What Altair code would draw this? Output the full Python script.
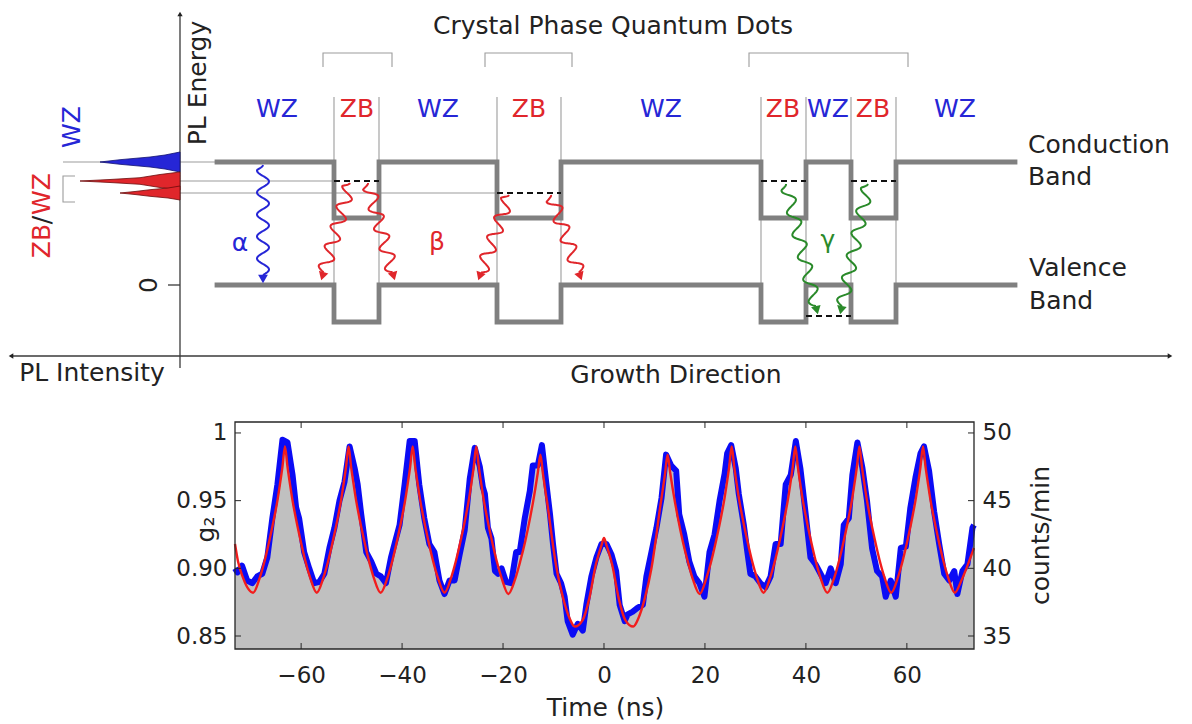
import math
import altair as alt
import pandas as pd

W, H = 1192, 724
FONT = "DejaVu Sans"
INK = "#222222"
BLUE = "#2626d6"
RED = "#e0262b"
GREEN = "#2a8a2a"
BAND = "#808080"
THIN = "#9c9c9c"

# ------------------------------------------------------------------
# Bottom panel: measured g2 (blue, with grey fill) and fit (red)
# ------------------------------------------------------------------
t_data = [-73.1, -72.6, -71.7, -70.7, -69.7, -68.7, -67.7, -66.7, -65.7, -64.7,
          -63.7, -62.7, -61.7, -61.0, -60.4, -59.4, -58.4, -57.4, -56.4, -55.4,
          -54.4, -53.4, -52.4, -51.4, -50.4, -49.4, -48.8, -48.1, -47.1, -46.1,
          -45.1, -44.2, -43.2, -42.2, -41.5, -40.5, -39.5, -38.5, -37.5, -36.6,
          -35.6, -34.6, -33.6, -32.6, -31.6, -30.6, -29.6, -28.6, -27.6, -26.6,
          -25.6, -24.6, -24.0, -23.6, -23.0, -22.3, -21.6, -21.0, -20.3, -19.4,
          -18.4, -17.4, -16.7, -15.7, -14.7, -14.1, -13.1, -12.3, -11.4, -10.7,
          -10.1, -9.4, -8.5, -7.8, -7.2, -6.2, -5.2, -4.2, -3.5, -2.5,
          -1.5, -0.5, 0.5, 1.5, 2.4, 3.1, 4.1, 4.7, 5.7, 6.7,
          7.7, 8.4, 9.4, 10.4, 11.4, 12.3, 13.3, 14.3, 14.9, 15.9,
          16.9, 17.9, 18.9, 19.9, 20.9, 21.9, 22.9, 23.9, 24.4, 25.2,
          26.1, 26.7, 27.7, 28.4, 29.0, 30.0, 31.0, 32.0, 33.0, 34.0,
          35.0, 36.0, 37.0, 38.0, 38.9, 39.9, 40.9, 41.9, 42.9, 43.9,
          44.9, 45.9, 46.9, 47.5, 48.5, 49.2, 50.2, 51.2, 52.1, 53.1,
          54.1, 55.1, 55.8, 56.8, 57.8, 58.8, 59.8, 60.7, 61.7, 62.7,
          63.4, 64.4, 65.4, 66.4, 67.4, 68.4, 69.4, 70.0, 71.0, 72.0,
          73.0, 73.3]
g2_data = [0.900, 0.897, 0.902, 0.891, 0.889, 0.894, 0.896, 0.908, 0.937, 0.962,
           0.995, 0.993, 0.969, 0.945, 0.937, 0.912, 0.900, 0.889, 0.890, 0.896,
           0.915, 0.930, 0.950, 0.964, 0.990, 0.974, 0.962, 0.940, 0.912, 0.905,
           0.896, 0.894, 0.889, 0.908, 0.918, 0.932, 0.962, 0.994, 0.994, 0.962,
           0.937, 0.918, 0.912, 0.891, 0.881, 0.891, 0.891, 0.910, 0.928, 0.966,
           0.989, 0.975, 0.960, 0.955, 0.930, 0.922, 0.898, 0.896, 0.900, 0.890,
           0.889, 0.912, 0.912, 0.937, 0.957, 0.976, 0.976, 0.991, 0.962, 0.940,
           0.918, 0.896, 0.889, 0.879, 0.861, 0.851, 0.859, 0.854, 0.873, 0.894,
           0.908, 0.918, 0.918, 0.910, 0.898, 0.873, 0.861, 0.866, 0.868, 0.871,
           0.873, 0.894, 0.912, 0.930, 0.952, 0.984, 0.976, 0.972, 0.940, 0.925,
           0.905, 0.894, 0.889, 0.879, 0.912, 0.925, 0.950, 0.970, 0.985, 0.991,
           0.974, 0.955, 0.932, 0.912, 0.896, 0.894, 0.889, 0.886, 0.894, 0.918,
           0.918, 0.962, 0.969, 0.994, 0.974, 0.942, 0.908, 0.903, 0.896, 0.889,
           0.900, 0.889, 0.903, 0.932, 0.937, 0.969, 0.993, 0.974, 0.950, 0.915,
           0.898, 0.894, 0.879, 0.891, 0.879, 0.915, 0.916, 0.945, 0.967, 0.985,
           0.990, 0.972, 0.942, 0.918, 0.896, 0.891, 0.898, 0.881, 0.898, 0.903,
           0.930, 0.932]

t_fit = [-73.1, -72.5, -71.5, -70.5, -69.5,
         -68.2, -67.2, -66.2, -65.2, -64.7, -64.2, -63.7, -63.2, -62.7, -62.2, -61.7, -61.2, -60.2, -59.2, -58.2, -56.9,
         -55.6, -54.6, -53.6, -52.6, -52.1, -51.6, -51.1, -50.6, -50.1, -49.6, -49.1, -48.6, -47.6, -46.6, -45.6, -44.25,
         -42.9, -41.9, -40.9, -39.9, -39.4, -38.9, -38.4, -37.9, -37.4, -36.9, -36.4, -35.9, -34.9, -33.9, -32.9, -31.6,
         -30.3, -29.3, -28.3, -27.3, -26.8, -26.3, -25.8, -25.3, -24.8, -24.3, -23.8, -23.3, -22.3, -21.3, -20.3, -18.95,
         -17.6, -16.6, -15.6, -14.6, -14.1, -13.6, -13.1, -12.6,
         -12.1, -11.6, -11.0, -10.4, -9.4, -8.1, -6.8, -5.8, -4.2, -2.9, -1.6, -1.0, -0.5, 0.0,
         0.5, 1.0, 1.6, 2.9, 4.2, 5.8, 6.8, 8.1, 9.4, 10.4, 11.0, 11.6, 12.1, 12.6,
         13.1, 13.6, 14.1, 14.6, 15.6, 16.6, 17.6, 18.95,
         20.3, 21.3, 22.3, 23.3, 23.8, 24.3, 24.8, 25.3, 25.8, 26.3, 26.8, 27.3, 28.3, 29.3, 30.3, 31.6,
         32.9, 33.9, 34.9, 35.9, 36.4, 36.9, 37.4, 37.9, 38.4, 38.9, 39.4, 39.9, 40.9, 41.9, 42.9, 44.25,
         45.6, 46.6, 47.6, 48.6, 49.1, 49.6, 50.1, 50.6, 51.1, 51.6, 52.1, 52.6, 53.6, 54.6, 55.6, 56.9,
         58.2, 59.2, 60.2, 61.2, 61.7, 62.2, 62.7, 63.2, 63.7, 64.2, 64.7, 65.2, 66.2, 67.2, 68.2, 69.5,
         70.8, 71.8, 72.8, 73.3]
g2_fit = [0.918, 0.905, 0.893, 0.885, 0.882,
          0.893, 0.906, 0.922, 0.940, 0.950, 0.962, 0.975, 0.990, 0.975, 0.962, 0.950, 0.940, 0.922, 0.906, 0.893, 0.882,
          0.893, 0.906, 0.922, 0.940, 0.950, 0.962, 0.975, 0.990, 0.975, 0.962, 0.950, 0.940, 0.922, 0.906, 0.893, 0.882,
          0.893, 0.906, 0.922, 0.940, 0.950, 0.962, 0.975, 0.990, 0.975, 0.962, 0.950, 0.940, 0.922, 0.906, 0.893, 0.882,
          0.893, 0.906, 0.922, 0.940, 0.950, 0.962, 0.975, 0.990, 0.975, 0.962, 0.950, 0.940, 0.922, 0.906, 0.893, 0.881,
          0.892, 0.905, 0.920, 0.938, 0.948, 0.959, 0.971, 0.984,
          0.970, 0.957, 0.942, 0.925, 0.900, 0.878, 0.863, 0.857, 0.862, 0.878, 0.903, 0.911, 0.917, 0.9225,
          0.917, 0.911, 0.903, 0.878, 0.862, 0.857, 0.863, 0.878, 0.900, 0.925, 0.942, 0.957, 0.970, 0.984,
          0.971, 0.959, 0.948, 0.938, 0.920, 0.905, 0.892, 0.881,
          0.893, 0.906, 0.922, 0.940, 0.950, 0.962, 0.975, 0.990, 0.975, 0.962, 0.950, 0.940, 0.922, 0.906, 0.893, 0.882,
          0.893, 0.906, 0.922, 0.940, 0.950, 0.962, 0.975, 0.990, 0.975, 0.962, 0.950, 0.940, 0.922, 0.906, 0.893, 0.882,
          0.893, 0.906, 0.922, 0.940, 0.950, 0.962, 0.975, 0.990, 0.975, 0.962, 0.950, 0.940, 0.922, 0.906, 0.893, 0.882,
          0.893, 0.906, 0.922, 0.940, 0.950, 0.962, 0.975, 0.990, 0.975, 0.962, 0.950, 0.940, 0.922, 0.906, 0.893, 0.882,
          0.891, 0.900, 0.910, 0.915]
assert len(t_data) == len(g2_data) and len(t_fit) == len(g2_fit)

x_ticks = [-60, -40, -20, 0, 20, 40, 60]
g2_ticks = [0.85, 0.90, 0.95, 1.0]
counts_ticks = [35, 40, 45, 50]
t_lim = [-73.1, 73.3]
g2_lim = [0.8404, 1.0081]
counts_lim = [34.04, 50.81]

# layout of the lower panel inside the figure (pixels)
PX_L, PX_R, PX_B, PX_T = 235, 974, 649, 422

# ------------------------------------------------------------------
# Upper panel: band-structure schematic (diagram units)
# ------------------------------------------------------------------
zb_bounds = [(334, 379), (497, 561), (761, 806), (851, 896)]
band_start, band_end = 217, 1015
cb_wz, cb_zb = 162, 218
vb_wz, vb_zb = 285, 322
qd_brackets = [(323, 392), (485, 572), (749, 908)]
bracket_top, bracket_leg = 53, 67
boundary_top, boundary_bottom = 97, 322
conf_levels = [(334, 379, 181), (497, 561, 193), (761, 806, 181), (851, 896, 181), (806, 851, 316)]
guide_lines = [(63, 217, 162), (180, 334, 181), (180, 497, 193)]
zbwz_bracket = [(75, 176), (63, 176), (63, 202), (75, 202)]
e_axis_x, e_axis_top, e_axis_bottom = 180, 16, 368
i_axis_y, i_axis_left, i_axis_right = 356, 13, 1168

# PL spectra: (peak id, kind, energy positions, intensities)
spectra = [
    ("wz", "wz", [152, 155, 157, 159.7, 162, 164.3, 167, 169, 172], [0, 15, 30, 60, 80, 60, 30, 15, 0]),
    ("zb1", "zb", [172, 174.5, 177.7, 179.5, 181, 182.5, 184.3, 187.5, 190], [0, 20, 40, 70, 100, 70, 40, 20, 0]),
    ("zb2", "zb", [186, 188, 189.7, 191.5, 193, 194.5, 196.3, 198, 200], [0, 12, 30, 45, 60, 45, 30, 12, 0]),
]

# wavy emission arrows: id, kind, start, end, wiggles, amplitude
waves = [
    ("a", "wz", (263, 165), (263, 284), 5, 6),
    ("b1", "zb", (350, 183), (321, 281), 4.5, 6.5),
    ("b2", "zb", (368, 183), (395, 281), 4.5, 6.5),
    ("b3", "zb", (509, 195), (478, 281), 4, 6.5),
    ("b4", "zb", (551, 195), (582, 281), 4, 6.5),
    ("g1", "qd", (786, 184), (818, 315), 5.5, 6),
    ("g2", "qd", (868, 184), (840, 315), 5.5, 6),
]

region_labels = [("WZ", 277, "wz"), ("ZB", 357, "zb"), ("WZ", 438, "wz"), ("ZB", 529, "zb"),
                 ("WZ", 661, "wz"), ("ZB", 783, "zb"), ("WZ", 828, "wz"), ("ZB", 873, "zb"),
                 ("WZ", 955, "wz")]
region_label_y = 109

texts_center = [
    ("Crystal Phase Quantum Dots", 613, 26, 0, "ink"),
    ("PL Energy", 198, 83, 270, "ink"),
    ("WZ", 72, 127, 270, "wz"),
    ("ZB", 42, 241, 270, "zb"),
    ("/", 42, 220, 270, "ink"),
    ("WZ", 42, 194, 270, "zb"),
    ("0", 149, 285, 270, "ink"),
    ("PL Intensity", 92, 373, 0, "ink"),
    ("Growth Direction", 676, 375, 0, "ink"),
    ("α", 240, 243, 0, "wz"),
    ("β", 437, 242, 0, "zb"),
    ("γ", 828, 240, 0, "qd"),
] + [(t, x, region_label_y, 0, k) for t, x, k in region_labels]
texts_left = [
    ("Conduction", 1028, 145, "ink"),
    ("Band", 1028, 177, "ink"),
    ("Valence", 1029, 268, "ink"),
    ("Band", 1029, 301, "ink"),
]

kind_scale = alt.Scale(domain=["ink", "wz", "zb", "qd"], range=[INK, BLUE, RED, GREEN])

# ------------------------------------------------------------------
# build schematic tables
# ------------------------------------------------------------------
def poly(rows, pid, pts, kind="ink"):
    for k, (x, y) in enumerate(pts):
        rows.append(dict(id=pid, k=k, x=x, y=y, kind=kind))

thin_rows = []
for i, (x0, x1, y) in enumerate(guide_lines):
    poly(thin_rows, f"g{i}", [(x0, y), (x1, y)])
for i, (a, b) in enumerate(zb_bounds):
    poly(thin_rows, f"va{i}", [(a, boundary_top), (a, boundary_bottom)])
    poly(thin_rows, f"vb{i}", [(b, boundary_top), (b, boundary_bottom)])
for i, (a, b) in enumerate(qd_brackets):
    poly(thin_rows, f"br{i}", [(a, bracket_leg), (a, bracket_top), (b, bracket_top), (b, bracket_leg)])
poly(thin_rows, "zbwz", zbwz_bracket)

axis_rows = []
poly(axis_rows, "eaxis", [(e_axis_x, e_axis_bottom), (e_axis_x, e_axis_top)])
poly(axis_rows, "iaxis", [(i_axis_left, i_axis_y), (i_axis_right, i_axis_y)])
poly(axis_rows, "zero", [(e_axis_x - 12, vb_wz), (e_axis_x, vb_wz)])

band_rows = []
cb = [(band_start, cb_wz)]
vb = [(band_start, vb_wz)]
for a, b in zb_bounds:
    cb += [(a, cb_wz), (a, cb_zb), (b, cb_zb), (b, cb_wz)]
    vb += [(a, vb_wz), (a, vb_zb), (b, vb_zb), (b, vb_wz)]
cb.append((band_end, cb_wz))
vb.append((band_end, vb_wz))
poly(band_rows, "cb", cb)
poly(band_rows, "vb", vb)

dash_rows = []
for i, (x0, x1, y) in enumerate(conf_levels):
    poly(dash_rows, f"d{i}", [(x0, y), (x1, y)])

spec_rows = []
for pid, kind, ys, ints in spectra:
    for y, inten in zip(ys, ints):
        spec_rows.append(dict(id=pid, kind=kind, y=y, x=e_axis_x - inten, base=e_axis_x))

wave_rows, head_rows = [], []
for wid, kind, (x0, y0), (x1, y1), cyc, amp in waves:
    L = math.hypot(x1 - x0, y1 - y0)
    ux, uy = (x1 - x0) / L, (y1 - y0) / L
    px, py = -uy, ux
    body = L - 9
    n = 160
    for i in range(n + 1):
        s = body * i / n
        env = min(1.0, s / 5.0)
        off = amp * math.sin(2 * math.pi * cyc * s / body) * env
        wave_rows.append(dict(id=wid, k=i, kind=kind, x=x0 + ux * s + px * off, y=y0 + uy * s + py * off))
    hx, hy = x1 - ux * 5, y1 - uy * 5
    head_rows.append(dict(kind=kind, x=hx, y=hy, ang=math.degrees(math.atan2(ux, -uy)) % 360, size=95))

head_rows.append(dict(kind="ink", x=e_axis_x, y=e_axis_top - 2, ang=0, size=28))
head_rows.append(dict(kind="ink", x=i_axis_left - 2, y=i_axis_y, ang=270, size=28))
head_rows.append(dict(kind="ink", x=i_axis_right + 2, y=i_axis_y, ang=90, size=28))

# ------------------------------------------------------------------
# schematic layers
# ------------------------------------------------------------------
sx = alt.Scale(domain=[0, W], range=[0, W], nice=False, zero=False)
sy = alt.Scale(domain=[0, H], range=[0, H], nice=False, zero=False)


def X(f):
    return alt.X(f, type="quantitative", scale=sx, axis=None)


def Y(f):
    return alt.Y(f, type="quantitative", scale=sy, axis=None)


def lines(rows, **mk):
    return alt.Chart(pd.DataFrame(rows)).mark_line(**mk).encode(
        x=X("x"), y=Y("y"), detail="id:N", order="k:Q")

thin = lines(thin_rows, color=THIN, strokeWidth=1.1)
axes_l = lines(axis_rows, color="#3a3a3a", strokeWidth=1.3)
bands = lines(band_rows, color=BAND, strokeWidth=4.8, strokeJoin="miter", strokeCap="square")
dashes = lines(dash_rows, color="#111111", strokeWidth=2, strokeDash=[6, 4])

spec_df = pd.DataFrame(spec_rows)
spec = alt.Chart(spec_df).mark_area(orient="horizontal", strokeWidth=0.8, opacity=1).encode(
    y=Y("y"), x=X("x"), x2="base:Q",
    detail="id:N",
    fill=alt.Fill("kind:N", scale=kind_scale, legend=None),
    stroke=alt.Stroke("kind:N", scale=alt.Scale(domain=["wz", "zb"], range=["#101070", "#6a0a0a"]), legend=None),
)

wave_l = alt.Chart(pd.DataFrame(wave_rows)).mark_line(strokeWidth=2).encode(
    x=X("x"), y=Y("y"), detail="id:N", order="k:Q",
    color=alt.Color("kind:N", scale=kind_scale, legend=None))

heads = alt.Chart(pd.DataFrame(head_rows)).mark_point(shape="triangle-up", filled=True, opacity=1).encode(
    x=X("x"), y=Y("y"),
    angle=alt.Angle("ang:Q", scale=None),
    size=alt.Size("size:Q", scale=None),
    color=alt.Color("kind:N", scale=kind_scale, legend=None))

tc_df = pd.DataFrame(texts_center, columns=["text", "x", "y", "ang", "kind"])
txt_c = alt.Chart(tc_df).mark_text(font=FONT, fontSize=25, align="center", baseline="middle").encode(
    x=X("x"), y=Y("y"), text="text:N",
    angle=alt.Angle("ang:Q", scale=None),
    color=alt.Color("kind:N", scale=kind_scale, legend=None))

tl_df = pd.DataFrame(texts_left, columns=["text", "x", "y", "kind"])
txt_l = alt.Chart(tl_df).mark_text(font=FONT, fontSize=25, align="left", baseline="middle").encode(
    x=X("x"), y=Y("y"), text="text:N",
    color=alt.Color("kind:N", scale=kind_scale, legend=None))

schematic = alt.layer(thin, axes_l, bands, dashes, spec, wave_l, heads, txt_c, txt_l)

# ------------------------------------------------------------------
# g2 panel layers
# ------------------------------------------------------------------
sxg = alt.Scale(domain=t_lim, range=[PX_L, PX_R], nice=False, zero=False)
syg = alt.Scale(domain=g2_lim, range=[PX_B, PX_T], nice=False, zero=False)
syc = alt.Scale(domain=counts_lim, range=[PX_B, PX_T], nice=False, zero=False)

lab = dict(labelFont=FONT, labelFontSize=23, labelColor=INK, domain=False, ticks=False,
           tickSize=0, grid=False, labelFlush=False, labelOverlap=False,
           titleFont=FONT, titleFontSize=25, titleFontWeight="normal", titleColor=INK,
           titleAlign="center", titleBaseline="middle")

df_blue = pd.DataFrame({"t": t_data, "g2": g2_data})
df_fit = pd.DataFrame({"t": t_fit, "g2": g2_fit})

area = alt.Chart(df_blue).mark_area(color="#c0c0c0", opacity=1).encode(
    x=alt.X("t:Q", scale=sxg, axis=None),
    y=alt.Y("g2:Q", scale=syg, axis=None),
    y2=alt.Y2Datum(g2_lim[0]),
)
blue = alt.Chart(df_blue).mark_line(color="#0b0bf5", strokeWidth=6, strokeJoin="round").encode(
    x=alt.X("t:Q", scale=sxg, axis=None), y=alt.Y("g2:Q", scale=syg, axis=None))
red = alt.Chart(df_fit).mark_line(color="#f21d1d", strokeWidth=2.4, interpolate="monotone").encode(
    x=alt.X("t:Q", scale=sxg, axis=None), y=alt.Y("g2:Q", scale=syg, axis=None))

one = pd.DataFrame({"a": [0]})
frame = alt.Chart(one).mark_rect(filled=False, color="#262626", strokeWidth=1.3).encode(
    x=alt.XDatum(t_lim[0], scale=sxg, axis=None), x2=alt.X2Datum(t_lim[1]),
    y=alt.YDatum(g2_lim[0], scale=syg, axis=None), y2=alt.Y2Datum(g2_lim[1]))

df_xt = pd.DataFrame({"v": x_ticks})
df_yt = pd.DataFrame({"v": g2_ticks})
df_ct = pd.DataFrame({"c": counts_ticks})

tick_top = alt.Chart(df_xt).mark_rule(color="#262626", strokeWidth=1, y2Offset=6).encode(
    x=alt.X("v:Q", scale=sxg, axis=None),
    y=alt.YDatum(g2_lim[1], scale=syg, axis=None), y2=alt.Y2Datum(g2_lim[1]))

g2_panel = alt.layer(area, blue, red, frame, tick_top)

# axis-carrying tick layers (inward ticks + labels)
x_axis = alt.Chart(df_xt).mark_rule(color="#262626", strokeWidth=1, y2Offset=-6).encode(
    x=alt.X("v:Q", scale=sxg, axis=alt.Axis(orient="bottom", offset=PX_B - H, values=x_ticks,
                                           labelPadding=15, title="Time (ns)", titleX=605, titleY=58, **lab)),
    y=alt.YDatum(g2_lim[0], scale=syg, axis=None), y2=alt.Y2Datum(g2_lim[0]))

y_axis = alt.Chart(df_yt).mark_rule(color="#262626", strokeWidth=1, x2Offset=6).encode(
    y=alt.Y("v:Q", scale=syg, axis=alt.Axis(orient="left", offset=-PX_L, values=g2_ticks, labelPadding=8,
                                           labelExpr="datum.value == 1 ? '1' : format(datum.value, '.2f')",
                                           title="g₂", titleX=205 - PX_L, titleY=529, titleAngle=270, **lab)),
    x=alt.XDatum(t_lim[0], scale=sxg, axis=None), x2=alt.X2Datum(t_lim[0]))

counts_axis = alt.Chart(df_ct).mark_rule(color="#262626", strokeWidth=1, x2Offset=-6).encode(
    y=alt.Y("c:Q", scale=syc, axis=alt.Axis(orient="right", offset=PX_R - W, values=counts_ticks,
                                           labelPadding=8, format="d", title="counts/min",
                                           titleX=1040 - PX_R, titleY=535, titleAngle=270, **lab)),
    x=alt.XDatum(t_lim[1], scale=sxg, axis=None), x2=alt.X2Datum(t_lim[1]))

chart = alt.layer(schematic, g2_panel, x_axis, y_axis, counts_axis).resolve_scale(
    x="independent", y="independent"
).properties(
    width=W, height=H, autosize=alt.AutoSizeParams(type="none"), padding=0, background="white"
).configure_view(stroke=None)

chart.save("out.html", embed_options={"renderer": "svg", "actions": False})
